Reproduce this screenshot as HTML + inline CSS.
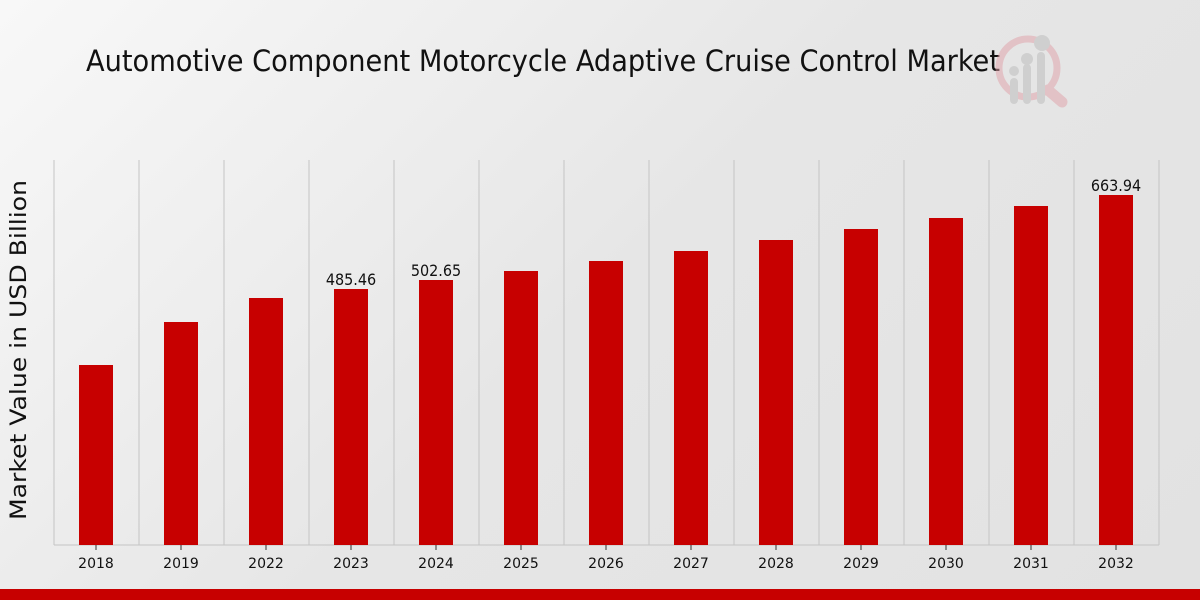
<!DOCTYPE html>
<html><head><meta charset="utf-8"><style>
html,body{margin:0;padding:0;width:1200px;height:600px;overflow:hidden}
body{background:linear-gradient(135deg,#f8f8f8 0%,#e6e6e6 50%,#e2e2e2 100%)}
</style></head><body>
<svg width="1200" height="600" xmlns="http://www.w3.org/2000/svg" style="position:absolute;left:0;top:0">
<text x="86" y="71" font-family="DejaVu Sans Condensed, DejaVu Sans, sans-serif" font-size="29" fill="#111" textLength="914" lengthAdjust="spacingAndGlyphs">Automotive Component Motorcycle Adaptive Cruise Control Market</text>
<g opacity="0.5">
<circle cx="1028" cy="68" r="29" fill="none" stroke="#e0a0a8" stroke-width="7"/>
<line x1="1048" y1="90" x2="1062" y2="102" stroke="#e0a0a8" stroke-width="11" stroke-linecap="round"/>
<rect x="1010" y="78" width="8" height="26" rx="4" fill="#bbb"/>
<rect x="1023" y="64" width="8" height="40" rx="4" fill="#bbb"/>
<rect x="1037" y="52" width="8" height="52" rx="4" fill="#bbb"/>
<circle cx="1014" cy="71" r="5" fill="#bbb"/><circle cx="1027" cy="59" r="6" fill="#bbb"/><circle cx="1042" cy="43" r="8" fill="#bbb"/>
</g>
<g stroke="#c4c4c4" stroke-width="1">
<line x1="54" y1="160" x2="54" y2="545"/><line x1="139" y1="160" x2="139" y2="545"/><line x1="224" y1="160" x2="224" y2="545"/><line x1="309" y1="160" x2="309" y2="545"/><line x1="394" y1="160" x2="394" y2="545"/><line x1="479" y1="160" x2="479" y2="545"/><line x1="564" y1="160" x2="564" y2="545"/><line x1="649" y1="160" x2="649" y2="545"/><line x1="734" y1="160" x2="734" y2="545"/><line x1="819" y1="160" x2="819" y2="545"/><line x1="904" y1="160" x2="904" y2="545"/><line x1="989" y1="160" x2="989" y2="545"/><line x1="1074" y1="160" x2="1074" y2="545"/><line x1="1159" y1="160" x2="1159" y2="545"/>
<line x1="54" y1="545" x2="1159" y2="545"/>
</g>
<g fill="#c70000">
<rect x="79" y="365" width="34" height="180"/><rect x="164" y="322" width="34" height="223"/><rect x="249" y="298" width="34" height="247"/><rect x="334" y="289" width="34" height="256"/><rect x="419" y="280" width="34" height="265"/><rect x="504" y="271" width="34" height="274"/><rect x="589" y="261" width="34" height="284"/><rect x="674" y="251" width="34" height="294"/><rect x="759" y="240" width="34" height="305"/><rect x="844" y="229" width="34" height="316"/><rect x="929" y="218" width="34" height="327"/><rect x="1014" y="206" width="34" height="339"/><rect x="1099" y="195" width="34" height="350"/>
</g>
<g stroke="#333" stroke-width="1">
<line x1="96" y1="545" x2="96" y2="550"/><line x1="181" y1="545" x2="181" y2="550"/><line x1="266" y1="545" x2="266" y2="550"/><line x1="351" y1="545" x2="351" y2="550"/><line x1="436" y1="545" x2="436" y2="550"/><line x1="521" y1="545" x2="521" y2="550"/><line x1="606" y1="545" x2="606" y2="550"/><line x1="691" y1="545" x2="691" y2="550"/><line x1="776" y1="545" x2="776" y2="550"/><line x1="861" y1="545" x2="861" y2="550"/><line x1="946" y1="545" x2="946" y2="550"/><line x1="1031" y1="545" x2="1031" y2="550"/><line x1="1116" y1="545" x2="1116" y2="550"/>
</g>
<g font-family="DejaVu Sans, sans-serif" font-size="14" fill="#111" text-anchor="middle">
<text x="96" y="568">2018</text><text x="181" y="568">2019</text><text x="266" y="568">2022</text><text x="351" y="568">2023</text><text x="436" y="568">2024</text><text x="521" y="568">2025</text><text x="606" y="568">2026</text><text x="691" y="568">2027</text><text x="776" y="568">2028</text><text x="861" y="568">2029</text><text x="946" y="568">2030</text><text x="1031" y="568">2031</text><text x="1116" y="568">2032</text>
</g>
<g font-family="DejaVu Sans Condensed, DejaVu Sans, sans-serif" font-size="16" fill="#111" text-anchor="middle">
<text x="351" y="285">485.46</text><text x="436" y="276">502.65</text><text x="1116" y="191">663.94</text>
</g>
<text transform="translate(26,350) rotate(-90)" font-family="DejaVu Sans, sans-serif" font-size="22" fill="#111" text-anchor="middle" textLength="340" lengthAdjust="spacingAndGlyphs">Market Value in USD Billion</text>
<rect x="0" y="589" width="1200" height="11" fill="#c70000"/>
</svg>
</body></html>
